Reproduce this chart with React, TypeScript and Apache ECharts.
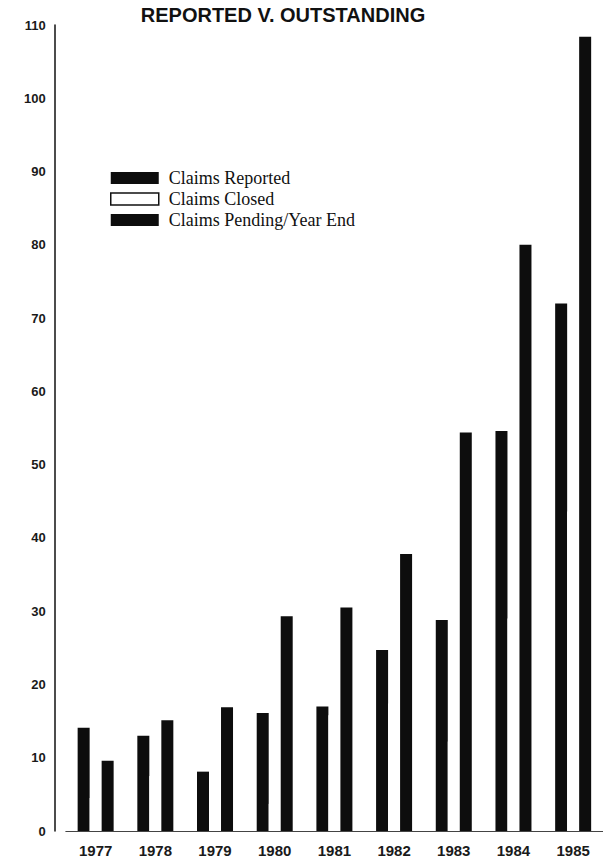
import React, { useEffect, useRef } from "react";
import * as echarts from "echarts";

const years = ["1977", "1978", "1979", "1980", "1981", "1982", "1983", "1984", "1985"];
const claimsReported = [14.1, 13.0, 8.1, 16.1, 17.0, 24.7, 28.8, 54.6, 72.0];
const claimsClosed = [4.5, 7.5, 6.3, 3.7, 15.8, 17.4, 12.2, 29.0, 43.6];
const claimsPending = [9.6, 15.1, 16.9, 29.3, 30.5, 37.8, 54.4, 80.0, 108.4];
const yMin = 0;
const yMax = 110;
const yInterval = 10;

const titleText = "REPORTED V. OUTSTANDING";
const seriesNames = ["Claims Reported", "Claims Closed", "Claims Pending/Year End"];

export default function App() {
  const ref = useRef<HTMLDivElement>(null);
  useEffect(() => {
    if (!ref.current) return;
    const chart = echarts.init(ref.current, null, { renderer: "svg" });
    const ink = "#0d0d0d";
    chart.setOption({
      animation: false,
      backgroundColor: "#ffffff",
      title: {
        text: titleText,
        left: 283,
        top: 5,
        padding: 0,
        textAlign: "center",
        textStyle: {
          fontFamily: '"Liberation Sans", Arial, sans-serif',
          fontWeight: "bold",
          fontSize: 20,
          color: "#111",
        },
      },
      legend: {
        orient: "vertical",
        left: 110,
        top: 169,
        padding: 0,
        itemWidth: 48,
        itemHeight: 12,
        itemGap: 3,
        icon: "rect",
        selectedMode: false,
        textStyle: {
          fontFamily: '"Liberation Serif", "Times New Roman", serif',
          fontSize: 18,
          color: "#111",
          padding: [0, 0, 0, 5],
        },
        data: [
          { name: seriesNames[0], itemStyle: { color: ink } },
          {
            name: seriesNames[1],
            itemStyle: { color: "#ffffff", borderColor: "#111", borderWidth: 1.5 },
          },
          { name: seriesNames[2], itemStyle: { color: ink } },
        ],
      },
      grid: { left: 65.8, top: 25, width: 543, bottom: 30 },
      xAxis: {
        type: "category",
        data: years,
        axisTick: { show: false },
        axisLine: { show: true, lineStyle: { color: "#444", width: 1 } },
        axisLabel: {
          margin: 12,
          fontFamily: '"Liberation Sans", Arial, sans-serif',
          fontWeight: "bold",
          fontSize: 15,
          color: "#1a1a1a",
        },
      },
      yAxis: {
        type: "value",
        min: yMin,
        max: yMax,
        interval: yInterval,
        offset: 11,
        splitLine: { show: false },
        axisTick: { show: false },
        axisLine: { show: true, lineStyle: { color: "#111", width: 1.5 } },
        axisLabel: {
          margin: 9,
          fontFamily: '"Liberation Sans", Arial, sans-serif',
          fontWeight: "bold",
          fontSize: 13,
          color: "#1a1a1a",
        },
      },
      series: [
        {
          name: seriesNames[0],
          type: "bar",
          data: claimsReported,
          barWidth: 12,
          barGap: "0%",
          itemStyle: { color: ink },
        },
        {
          name: seriesNames[1],
          type: "bar",
          data: claimsClosed,
          barWidth: 12,
          barGap: "0%",
          itemStyle: { color: "#ffffff" },
        },
        {
          name: seriesNames[2],
          type: "bar",
          data: claimsPending,
          barWidth: 12,
          barGap: "0%",
          itemStyle: { color: ink },
        },
      ],
    });
    return () => chart.dispose();
  }, []);
  return (
    <div
      ref={ref}
      style={{ position: "absolute", left: 0, top: 0, width: 603, height: 861 }}
    />
  );
}
